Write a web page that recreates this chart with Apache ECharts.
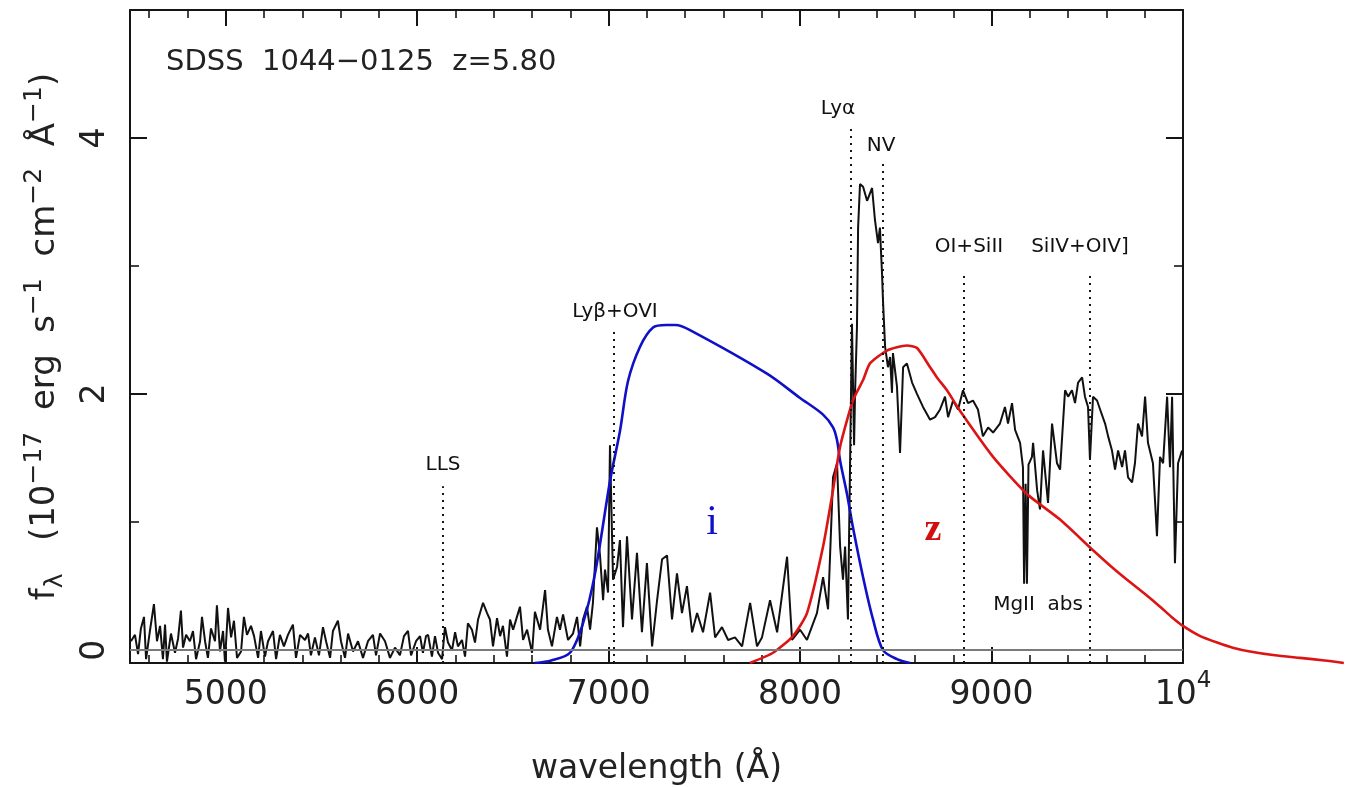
<!DOCTYPE html>
<html>
<head>
<meta charset="utf-8">
<title>SDSS 1044-0125 spectrum</title>
<script src="https://cdn.jsdelivr.net/npm/echarts@6/dist/echarts.min.js"></script>
<style>
  html, body { margin: 0; padding: 0; background: #fff; }
  #main { width: 1347px; height: 787px; }
</style>
</head>
<body>
<div id="main"></div>
<script>
const specWave = [
  4505, 4526, 4542, 4557, 4573, 4584, 4604, 4625, 4641, 4657,
  4672, 4683, 4693, 4714, 4735, 4751, 4766, 4777, 4793, 4813,
  4829, 4845, 4866, 4876, 4892, 4907, 4923, 4944, 4954, 4970,
  4986, 4996, 5012, 5028, 5043, 5059, 5080, 5095, 5111, 5132,
  5148, 5169, 5184, 5205, 5221, 5247, 5263, 5283, 5304, 5325,
  5351, 5367, 5388, 5414, 5430, 5445, 5466, 5487, 5508, 5524,
  5545, 5560, 5586, 5602, 5623, 5639, 5665, 5691, 5717, 5743,
  5769, 5785, 5806, 5832, 5858, 5884, 5910, 5931, 5952, 5968,
  5994, 6015, 6030, 6046, 6057, 6077, 6093, 6109, 6130, 6145,
  6161, 6182, 6198, 6213, 6234, 6250, 6265, 6286, 6302, 6318,
  6344, 6365, 6380, 6396, 6417, 6433, 6448, 6469, 6485, 6501,
  6521, 6537, 6553, 6574, 6600, 6615, 6642, 6668, 6683, 6704,
  6730, 6746, 6762, 6788, 6814, 6835, 6851, 6866, 6887, 6903,
  6918, 6939, 6955, 6971, 6981, 6997, 7007, 7023, 7044, 7059,
  7075, 7096, 7122, 7148, 7174, 7200, 7227, 7253, 7279, 7305,
  7331, 7357, 7383, 7409, 7436, 7462, 7493, 7530, 7556, 7592,
  7624, 7660, 7697, 7739, 7775, 7801, 7843, 7880, 7932, 7958,
  8000, 8036, 8088, 8120, 8146, 8172, 8193, 8209, 8224, 8235,
  8250, 8271, 8282, 8287, 8297, 8303, 8313, 8329, 8350, 8376,
  8391, 8407, 8417, 8428, 8433, 8444, 8459, 8470, 8480, 8485,
  8506, 8522, 8538, 8558, 8585, 8611, 8642, 8679, 8705, 8731,
  8757, 8773, 8799, 8825, 8851, 8877, 8903, 8929, 8955, 8982,
  9008, 9044, 9070, 9086, 9107, 9123, 9149, 9164, 9170, 9178,
  9185, 9193, 9211, 9217, 9238, 9253, 9269, 9295, 9316, 9342,
  9358, 9384, 9400, 9420, 9436, 9452, 9473, 9488, 9504, 9514,
  9530, 9551, 9567, 9593, 9609, 9629, 9645, 9661, 9682, 9697,
  9713, 9734, 9749, 9765, 9786, 9802, 9817, 9843, 9864, 9880,
  9896, 9917, 9932, 9943, 9958, 9974, 9995
];
const specFlux = [
  0.07, 0.12, -0.03, 0.17, 0.26, -0.07, 0.15, 0.36, 0.07, 0.19,
  -0.07, 0.20, -0.09, 0.13, -0.02, 0.09, 0.31, 0.02, 0.12, 0.07,
  0.15, -0.07, 0.07, 0.26, 0.07, -0.06, 0.17, 0.07, 0.35, -0.01,
  0.15, -0.09, 0.33, 0.10, 0.23, -0.06, -0.01, 0.26, 0.12, 0.19,
  0.11, -0.06, 0.15, -0.05, 0.07, 0.15, -0.07, 0.12, 0.03, 0.12,
  0.20, -0.06, 0.12, 0.08, 0.13, -0.04, 0.10, -0.04, 0.18, 0.07,
  -0.06, 0.15, 0.23, 0.07, -0.06, 0.13, -0.01, 0.07, -0.06, 0.07,
  0.12, -0.04, 0.13, 0.07, -0.06, 0.02, -0.04, 0.11, 0.15, -0.04,
  0.07, 0.11, -0.02, 0.11, 0.12, -0.05, 0.11, -0.02, -0.07, 0.18,
  0.06, 0.00, 0.14, 0.03, 0.08, -0.05, 0.21, 0.16, 0.06, 0.24,
  0.37, 0.29, 0.24, 0.03, 0.25, 0.11, 0.19, -0.05, 0.24, 0.16,
  0.26, 0.34, 0.08, 0.16, -0.02, 0.30, 0.16, 0.47, 0.16, 0.03,
  0.26, 0.16, 0.28, 0.08, 0.13, 0.26, 0.03, 0.24, 0.34, 0.16,
  0.37, 0.96, 0.74, 0.39, 0.63, 0.45, 1.60, 0.55, 0.65, 0.86,
  0.18, 0.89, 0.24, 0.76, 0.14, 0.68, 0.03, 0.39, 0.71, 0.74,
  0.24, 0.60, 0.29, 0.50, 0.14, 0.29, 0.14, 0.45, 0.10, 0.18,
  0.08, 0.10, 0.03, 0.37, 0.03, 0.10, 0.39, 0.14, 0.73, 0.08,
  0.16, 0.08, 0.29, 0.57, 0.32, 1.35, 1.46, 0.81, 0.55, 0.81,
  0.24, 2.55, 1.60, 2.00, 2.52, 3.30, 3.64, 3.62, 3.51, 3.61,
  3.36, 3.18, 3.30, 2.94, 2.73, 2.37, 2.21, 2.29, 2.01, 2.32,
  2.06, 1.54, 2.21, 2.24, 2.09, 2.00, 1.90, 1.80, 1.82, 1.88,
  1.98, 1.82, 1.95, 1.88, 2.03, 1.93, 1.95, 1.88, 1.67, 1.74,
  1.70, 1.77, 1.90, 1.77, 1.93, 1.72, 1.62, 1.43, 0.52, 1.30,
  0.52, 1.45, 1.51, 1.62, 1.25, 1.10, 1.56, 1.15, 1.77, 1.46,
  1.41, 2.03, 1.98, 2.03, 1.93, 2.09, 2.13, 1.98, 1.90, 1.49,
  1.98, 1.95, 1.88, 1.77, 1.67, 1.56, 1.41, 1.56, 1.43, 1.56,
  1.35, 1.31, 1.46, 1.77, 1.67, 1.98, 1.62, 1.46, 0.89, 1.51,
  1.46, 1.98, 1.43, 1.98, 0.68, 1.46, 1.56
];

// SDSS filter curves, drawn in flux units like the original
const iWave = [6615, 6700, 6798, 6866, 6929, 7007, 7059, 7101, 7164, 7232, 7300, 7350,
  7425, 7827, 8000, 8120, 8172, 8193, 8209, 8245, 8276, 8329, 8381, 8433, 8506, 8574];
const iFlux = [-0.10, -0.08, -0.02, 0.21, 0.60, 1.32, 1.71, 2.10, 2.37, 2.52, 2.54, 2.54,
  2.50, 2.16, 1.97, 1.84, 1.74, 1.64, 1.48, 1.22, 0.96, 0.57, 0.24, 0.00, -0.07, -0.10];
const zWave = [7738, 7859, 7963, 8036, 8120, 8172, 8209, 8276, 8329, 8365, 8454, 8558, 8611,
  8679, 8715, 8767, 8835, 9008, 9185, 9358, 9530, 9620, 9708, 9800, 9880, 9940, 10000,
  10090, 10178, 10260, 10350, 10480, 10611, 10740, 10840];
const zFlux = [-0.10, -0.02, 0.11, 0.29, 0.81, 1.25, 1.59, 1.95, 2.11, 2.24, 2.34, 2.38, 2.36,
  2.21, 2.13, 2.03, 1.87, 1.51, 1.22, 1.02, 0.78, 0.66, 0.55, 0.44, 0.34, 0.26, 0.19,
  0.11, 0.06, 0.02, -0.01, -0.04, -0.06, -0.08, -0.10];

// emission / absorption markers
const lineWave = [6135, 7028, 8264, 8431, 8853, 9514];
const lineTop = [1.28, 2.51, 4.10, 3.81, 2.94, 2.94];

const labelText = ['LLS', 'Lyβ+OVI', 'Lyα', 'NV', 'OI+SiII', 'SiIV+OIV]', 'MgII  abs'];
const labelWave = [6135, 7033, 8198, 8423, 8882, 9462, 9243];
const labelFlux = [1.45, 2.64, 4.23, 3.94, 3.15, 3.15, 0.355];

const filterText = ['i', 'z'];
const filterWave = [7540, 8694];
const filterFlux = [0.99, 0.94];

// axis ticks
const xMajor = [5000, 6000, 7000, 8000, 9000, 10000];
const xMinor = [4600, 4800, 5200, 5400, 5600, 5800, 6200, 6400, 6600, 6800, 7200, 7400,
  7600, 7800, 8200, 8400, 8600, 8800, 9200, 9400, 9600, 9800];
const yMajor = [0, 2, 4];
const yMinor = [1, 3];

const FONT = 'DejaVu Sans';
const INK = '#151515';
const TXT = '#222222';

// plot frame (px) and the wider strip the z curve runs out into
const FRAME = { left: 130, top: 10, bottom: 124, width: 1053 };
const X_MIN = 4500, X_MAX = 10000, X_MAX_WIDE = 10850;
const PX_PER_A = FRAME.width / (X_MAX - X_MIN);

const pairs = (xs, ys) => xs.map((x, i) => [x, ys[i]]);

function xAxisDef(position, ticks, len, withLabels) {
  return {
    type: 'value', gridIndex: 0, min: X_MIN, max: X_MAX, position: position,
    axisLine: { show: len > 10, onZero: false, lineStyle: { color: INK, width: 2 } },
    axisTick: { show: true, inside: true, length: len, customValues: ticks,
      lineStyle: { color: INK, width: len > 10 ? 2 : 1.6 } },
    axisLabel: withLabels ? {
      show: true, margin: 7, customValues: ticks,
      formatter: v => v === 10000 ? '{a|10}{s|4}' : '{a|' + v + '}',
      rich: {
        a: { fontFamily: FONT, fontSize: 33, lineHeight: 50, color: TXT },
        s: { fontFamily: FONT, fontSize: 23, lineHeight: 23, verticalAlign: 'top', color: TXT }
      }
    } : { show: false },
    splitLine: { show: false }
  };
}

function yAxisDef(position, ticks, len, withLabels) {
  return {
    type: 'value', gridIndex: 0, min: -0.1, max: 5, position: position,
    axisLine: { show: len > 10, onZero: false, lineStyle: { color: INK, width: 2 } },
    axisTick: { show: true, inside: true, length: len, customValues: ticks,
      lineStyle: { color: INK, width: len > 10 ? 2 : 1.6 } },
    axisLabel: withLabels ? {
      show: true, rotate: 90, margin: 16, customValues: ticks,
      fontFamily: FONT, fontSize: 33, lineHeight: 38, color: TXT
    } : { show: false },
    splitLine: { show: false }
  };
}

const xAxes = [
  xAxisDef('bottom', xMajor, 16, true),
  xAxisDef('bottom', xMinor, 8, false),
  xAxisDef('top', xMajor, 16, false),
  xAxisDef('top', xMinor, 8, false),
  { type: 'value', gridIndex: 1, min: X_MIN, max: X_MAX_WIDE, show: false }
];
xAxes[0].name = 'wavelength (Å)';
xAxes[0].nameLocation = 'middle';
xAxes[0].nameGap = 88;
xAxes[0].nameTextStyle = { fontFamily: FONT, fontSize: 33, lineHeight: 36, color: TXT };

const yAxes = [
  yAxisDef('left', yMajor, 17, true),
  yAxisDef('left', yMinor, 9, false),
  yAxisDef('right', yMajor, 17, false),
  yAxisDef('right', yMinor, 9, false),
  { type: 'value', gridIndex: 1, min: -0.1, max: 5, show: false }
];
yAxes[0].name = '{t|f}{sub|λ}{t|   (10}{sup|−17}{t|  erg  s}{sup|−1}{t|  cm}{sup|−2}{t|  Å}{sup|−1}{t|)}';
yAxes[0].nameLocation = 'middle';
yAxes[0].nameRotate = 90;
yAxes[0].nameGap = 62;
yAxes[0].nameTextStyle = {
  rich: {
    t: { fontFamily: FONT, fontSize: 34, lineHeight: 46, color: TXT },
    sup: { fontFamily: FONT, fontSize: 25, lineHeight: 25, verticalAlign: 'top', color: TXT },
    sub: { fontFamily: FONT, fontSize: 25, lineHeight: 25, verticalAlign: 'bottom', color: TXT }
  }
};

const chart = echarts.init(document.getElementById('main'), null, { renderer: 'canvas' });

const plainLabel = { opacity: 1, textBorderWidth: 0, textBorderColor: 'transparent', textShadowBlur: 0 };

chart.setOption({
  animation: false,
  backgroundColor: '#ffffff',
  title: {
    text: 'SDSS  1044−0125  z=5.80',
    left: 166, top: 48, padding: 0,
    textStyle: { fontFamily: FONT, fontSize: 29, fontWeight: 'normal', color: TXT }
  },
  grid: [
    { left: FRAME.left, top: FRAME.top, bottom: FRAME.bottom, width: FRAME.width,
      containLabel: false, outerBoundsMode: 'none' },
    { left: FRAME.left, top: FRAME.top, bottom: FRAME.bottom,
      width: (X_MAX_WIDE - X_MIN) * PX_PER_A,
      containLabel: false, outerBoundsMode: 'none' }
  ],
  xAxis: xAxes,
  yAxis: yAxes,
  series: [
    {
      name: 'spectrum', type: 'line', showSymbol: false, symbol: 'none',
      data: pairs(specWave, specFlux),
      lineStyle: { color: '#111111', width: 2 },
      z: 3,
      markLine: {
        silent: true, symbol: ['none', 'none'], label: { show: false },
        lineStyle: { color: '#7a7a7a', width: 2, type: 'solid' },
        data: [{ yAxis: 0 }]
      }
    },
    {
      name: 'markers', type: 'line', data: [], z: 2,
      markLine: {
        silent: true, symbol: ['none', 'none'], label: { show: false },
        lineStyle: { color: INK, width: 2, type: [2, 5] },
        data: lineWave.map((w, i) => [{ coord: [w, -0.1] }, { coord: [w, lineTop[i]] }])
      }
    },
    {
      name: 'i', type: 'line', showSymbol: false, symbol: 'none', smooth: 0.3,
      data: pairs(iWave, iFlux),
      lineStyle: { color: '#1010c8', width: 2.6 }, z: 4
    },
    {
      name: 'z', type: 'line', showSymbol: false, symbol: 'none', smooth: 0.2,
      xAxisIndex: 4, yAxisIndex: 4, clip: false,
      data: pairs(zWave, zFlux),
      lineStyle: { color: '#dc1414', width: 2.6 }, z: 4
    },
    {
      name: 'labels', type: 'scatter', symbolSize: 0, silent: true, z: 5,
      itemStyle: { opacity: 1 },
      data: labelText.map((t, i) => ({ value: [labelWave[i], labelFlux[i]], name: t })),
      label: Object.assign({
        show: true, position: 'inside', formatter: '{b}',
        fontFamily: FONT, fontSize: 20, color: '#111111'
      }, plainLabel)
    },
    {
      name: 'filters', type: 'scatter', symbolSize: 0, silent: true, z: 5,
      itemStyle: { opacity: 1 },
      data: filterText.map((t, i) => ({
        value: [filterWave[i], filterFlux[i]], name: t,
        label: {
          color: i === 0 ? '#1010c8' : '#d01010',
          fontWeight: i === 0 ? 'normal' : 'bold',
          fontSize: i === 0 ? 42 : 38
        }
      })),
      label: Object.assign({
        show: true, position: 'inside', formatter: '{b}',
        fontFamily: 'Liberation Serif'
      }, plainLabel)
    }
  ]
});
</script>
</body>
</html>
